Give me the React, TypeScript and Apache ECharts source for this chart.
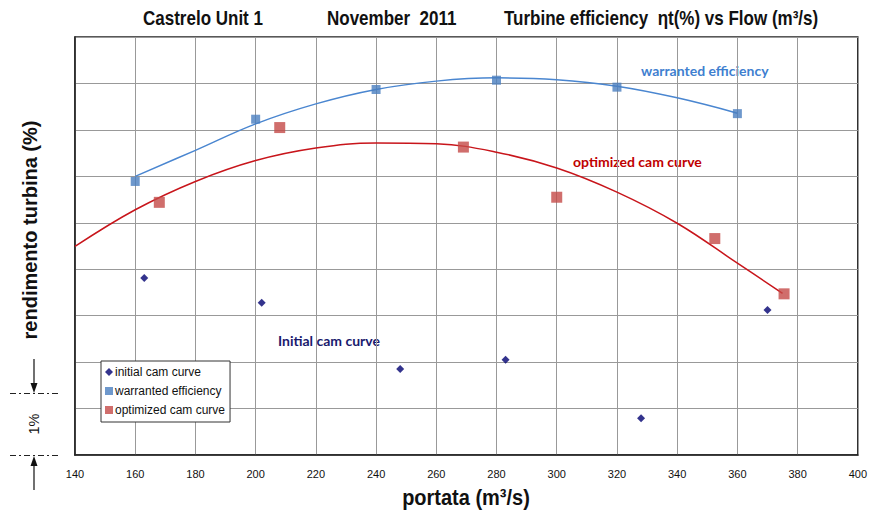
import React, { useEffect, useRef } from "react";
import * as echarts from "echarts";

const flowMin = 140;
const flowMax = 400;
const flowStep = 20;

const initialFlow = [163, 202, 248, 283, 328, 370];
const initialEff = [3.81, 3.28, 1.85, 2.05, 0.79, 3.12];

const warrantedFlow = [160, 200, 240, 280, 320, 360];
const warrantedEff = [5.89, 7.23, 7.87, 8.07, 7.92, 7.35];

const optimizedFlow = [168, 208, 269, 300, 352.5, 375.5];
const optimizedEff = [5.44, 7.05, 6.63, 5.55, 4.66, 3.47];

const warrantedTrendFlow = [160, 180, 200, 220, 240, 260, 280, 300, 320, 340, 360];
const warrantedTrendEff = [6.0, 6.56, 7.13, 7.56, 7.87, 8.05, 8.12, 8.08, 7.94, 7.69, 7.36];

const optimizedTrendFlow = [140, 160, 180, 200, 220, 240, 260, 280, 300, 320, 340, 360, 375];
const optimizedTrendEff = [4.49, 5.28, 5.89, 6.34, 6.61, 6.72, 6.7, 6.52, 6.18, 5.66, 4.99, 4.13, 3.48];

const zip = (a: number[], b: number[]) => a.map((v, i) => [v, b[i]]);

const SANS = "'Liberation Sans', Arial, sans-serif";
const CAL = "Lato, 'Open Sans', sans-serif";

export default function App() {
  const ref = useRef<HTMLDivElement>(null);
  useEffect(() => {
    if (!ref.current) return;
    const chart = echarts.init(ref.current, undefined, { renderer: "svg" });
    const titleStyle = { fontSize: 17, fontWeight: "bold", fontFamily: SANS, fill: "#111", verticalAlign: "middle" };
    chart.setOption({
      animation: false,
      backgroundColor: "#ffffff",
      grid: {
        left: 75,
        right: 11,
        top: 37,
        bottom: 61,
        show: true,
        borderColor: "#222",
        borderWidth: 1.5,
        backgroundColor: "transparent",
      },
      xAxis: {
        type: "value",
        min: flowMin,
        max: flowMax,
        interval: flowStep,
        axisLine: { show: true, lineStyle: { color: "#222", width: 1.5 } },
        axisTick: { show: false },
        axisLabel: { color: "#111", fontSize: 11, fontFamily: SANS, margin: 13 },
        splitLine: { show: true, lineStyle: { color: "#999", width: 1 } },
      },
      yAxis: {
        type: "value",
        min: 0,
        max: 9,
        interval: 1,
        axisLine: { show: true, lineStyle: { color: "#222", width: 1.5 } },
        axisTick: { show: false },
        axisLabel: { show: false },
        splitLine: { show: true, lineStyle: { color: "#999", width: 1 } },
      },
      legend: {
        data: [
          { name: "initial cam curve", icon: "diamond" },
          { name: "warranted efficiency", icon: "rect" },
          { name: "optimized cam curve", icon: "rect" },
        ],
        orient: "vertical",
        left: 101,
        top: 361,
        itemWidth: 8,
        itemHeight: 8,
        itemGap: 7,
        padding: [5, 5, 6, 4],
        backgroundColor: "#fff",
        borderColor: "#333",
        borderWidth: 1,
        borderRadius: 0,
        textStyle: { fontSize: 12, color: "#111", fontFamily: SANS, padding: [0, 0, 0, -3] },
      },
      series: [
        {
          name: "warranted trend",
          type: "line",
          data: zip(warrantedTrendFlow, warrantedTrendEff),
          smooth: 0.4,
          symbol: "none",
          lineStyle: { color: "#4a86d0", width: 1.5 },
          z: 2,
        },
        {
          name: "optimized trend",
          type: "line",
          data: zip(optimizedTrendFlow, optimizedTrendEff),
          smooth: 0.4,
          symbol: "none",
          lineStyle: { color: "#c8151b", width: 1.5 },
          z: 2,
        },
        {
          name: "initial cam curve",
          type: "scatter",
          data: zip(initialFlow, initialEff),
          symbol: "diamond",
          symbolSize: 8,
          itemStyle: { color: "#000070" },
          z: 3,
        },
        {
          name: "warranted efficiency",
          type: "scatter",
          data: zip(warrantedFlow, warrantedEff),
          symbol: "rect",
          symbolSize: 9,
          itemStyle: { color: "#4a7ebf" },
          z: 3,
        },
        {
          name: "optimized cam curve",
          type: "scatter",
          data: zip(optimizedFlow, optimizedEff),
          symbol: "rect",
          symbolSize: 11,
          itemStyle: { color: "#c44a47" },
          z: 3,
        },
      ],
      graphic: [
        { type: "text", x: 143, y: 18, scaleY: 1.17, style: { ...titleStyle, text: "Castrelo Unit 1" } },
        { type: "text", x: 327, y: 18, scaleY: 1.17, style: { ...titleStyle, text: "November  2011" } },
        { type: "text", x: 504, y: 18, scaleY: 1.17, style: { ...titleStyle, text: "Turbine efficiency  ηt(%) vs Flow (m³/s)" } },
        {
          type: "text",
          x: 30,
          y: 230,
          rotation: Math.PI / 2,
          style: { text: "rendimento turbina (%)", fontSize: 20, fontWeight: "bold", fontFamily: SANS, fill: "#111", align: "center", verticalAlign: "middle" },
        },
        { type: "text", x: 466, y: 497, scaleY: 1.1, style: { text: "portata (m³/s)", fontSize: 20, fontWeight: "bold", fontFamily: SANS, fill: "#111", align: "center", verticalAlign: "middle" } },
        { type: "text", x: 641, y: 70, style: { text: "warranted efficiency", fontSize: 14, fontWeight: "bold", fontFamily: CAL, fill: "#3f7fd0", verticalAlign: "middle" } },
        { type: "text", x: 573, y: 161, style: { text: "optimized cam curve", fontSize: 14, fontWeight: "bold", fontFamily: CAL, fill: "#c00000", verticalAlign: "middle" } },
        { type: "text", x: 278, y: 340, style: { text: "Initial cam curve", fontSize: 14, fontWeight: "bold", fontFamily: CAL, fill: "#1a1a6e", verticalAlign: "middle" } },
        { type: "line", shape: { x1: 10, y1: 393.5, x2: 58, y2: 393.5 }, style: { stroke: "#222", lineWidth: 1, lineDash: [6, 3, 2, 3] } },
        { type: "line", shape: { x1: 10, y1: 455.5, x2: 58, y2: 455.5 }, style: { stroke: "#222", lineWidth: 1, lineDash: [6, 3, 2, 3] } },
        { type: "line", shape: { x1: 34, y1: 359, x2: 34, y2: 386 }, style: { stroke: "#111", lineWidth: 1.2 } },
        { type: "polygon", shape: { points: [[30.5, 383], [37.5, 383], [34, 393]] }, style: { fill: "#111" } },
        { type: "line", shape: { x1: 34, y1: 490, x2: 34, y2: 462 }, style: { stroke: "#111", lineWidth: 1.2 } },
        { type: "polygon", shape: { points: [[30.5, 466], [37.5, 466], [34, 456]] }, style: { fill: "#111" } },
        {
          type: "text",
          x: 34,
          y: 424,
          rotation: Math.PI / 2,
          style: { text: "1%", fontSize: 14.5, fontFamily: SANS, fill: "#111", align: "center", verticalAlign: "middle" },
        },
      ],
    });
    return () => chart.dispose();
  }, []);
  return <div ref={ref} style={{ position: "fixed", left: 0, top: 0, width: 870, height: 516 }} />;
}
